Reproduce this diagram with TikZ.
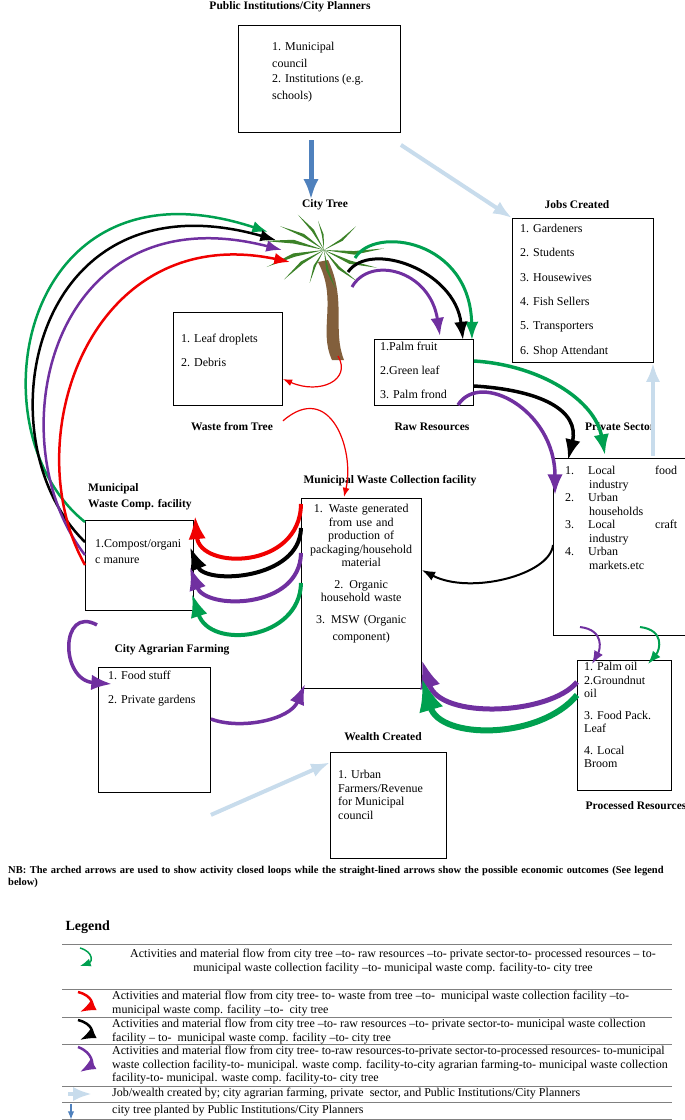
\documentclass[tikz,border=0pt]{standalone}
\usepackage{fontspec}
\setmainfont{Liberation Serif}
\usetikzlibrary{arrows,arrows.meta,shapes,positioning,calc}
\definecolor{lgreen}{RGB}{0,160,80}
\definecolor{lpurple}{RGB}{112,48,160}
\definecolor{lred}{RGB}{240,0,0}
\definecolor{lsky}{RGB}{200,220,236}
\definecolor{lblue}{RGB}{79,129,189}
\definecolor{trunk}{RGB}{130,95,60}
\definecolor{leaf}{RGB}{60,130,40}
\tikzset{
	box/.style={draw, line width=0.9pt, anchor=north west, inner sep=0pt},
	txt/.style={anchor=north west, align=left, font=\fontsize{12}{17}\selectfont, inner sep=0pt},
	ttl/.style={font=\fontsize{11.5}{15}\selectfont\bfseries, inner sep=0pt},
	flow/.style={-{Latex[scale=1.1]}, line width=#1},
	flow/.default=2pt,
	job/.style={-{Latex[scale=0.9]}, line width=4pt, draw=lsky},
	leg/.style={anchor=north west, align=left, font=\fontsize{12}{13.5}\selectfont, inner sep=0pt},
}
\begin{document}
\begin{tikzpicture}[x=1pt, y=-1pt]
	\useasboundingbox (0,0) rectangle (685,1120);
	% top: planners
	\node[ttl] (pititle) at (290,7) {Public Institutions/City Planners};
	\node[box, minimum width=162, minimum height=107] (pi) at (238,25) {};
	\node[txt] at (272,42) {1. Municipal\\council\\[-2pt]2. Institutions (e.g.\\schools)};
	\node[ttl] (treetitle) at (325,205) {City Tree};
	\coordinate (plant) at (311,140);
	\draw[-{Latex[scale=0.8]}, line width=5pt, draw=lblue] (plant) -- (treetitle.north -| plant);
	% palm tree
	\fill[trunk] (318,262) .. controls (338,300) and (318,330) .. (332,360) -- (344,360) .. controls (332,330) and (347,300) .. (328,260) -- cycle;
	\foreach \a/\l in {160/60,185/62,140/50,205/50,15/56,40/46,355/60,110/36,70/40,230/44,320/40,255/30}
		\fill[leaf] (324,250) -- ++(\a+7:\l*0.5) -- ++(\a:\l*0.5) -- ++(\a-180-7:\l*0.5) -- cycle;
	% jobs
	\node[ttl] (jobtitle) at (577,205) {Jobs Created};
	\node[box, minimum width=141, minimum height=144] (jobs) at (512,218) {};
	\node[txt, font=\fontsize{12}{24.3}\selectfont] at (520,224) {1. Gardeners\\2. Students\\3. Housewives\\4. Fish Sellers\\5. Transporters\\6. Shop Attendant};
	% waste from tree, raw resources
	\node[box, minimum width=109, minimum height=93] (waste) at (173,312) {};
	\node[txt, font=\fontsize{12}{24}\selectfont] at (181,334) {1. Leaf droplets\\2. Debris};
	\node[ttl] at (232,427) {Waste from Tree};
	\node[box, minimum width=99, minimum height=66] (raw) at (374,339) {};
	\node[txt, font=\fontsize{12}{24}\selectfont] at (380,342) {1.Palm fruit\\2.Green leaf\\3. Palm frond};
	\node[ttl] at (432,427) {Raw Resources};
	% private sector
	\node[ttl] at (620,427) {Private Sector};
	\node[box, minimum width=132, minimum height=177] (priv) at (553,458) {};
	\node[txt, font=\fontsize{12}{13.5}\selectfont, text width=112] at (565,466) {1.\hspace{14pt}Local\hfill food\\\hspace*{24pt}industry\\2.\hspace{14pt}Urban\\\hspace*{24pt}households\\3.\hspace{14pt}Local\hfill craft\\\hspace*{24pt}industry\\4.\hspace{14pt}Urban\\\hspace*{24pt}markets.etc};
	% collection facility
	\node[ttl] at (390,481) {Municipal Waste Collection facility};
	\node[box, minimum width=120, minimum height=190] (coll) at (301,498) {};
	\node[txt, align=center, text width=116] at (303,504) {\fontsize{12}{13.5}\selectfont 1. Waste generated\\from use and\\production of\\packaging/household\\material\\[8pt]2. Organic\\household waste\\[8pt]3. MSW (Organic\\component)};
	% compost facility
	\node[ttl, align=left, anchor=north west, font=\fontsize{11.5}{16}\selectfont\bfseries] at (88,483) {Municipal\\Waste Comp. facility};
	\node[box, minimum width=108, minimum height=90] (comp) at (85,520) {};
	\node[txt, font=\fontsize{12}{16}\selectfont] at (95,539) {1.Compost/organi\\c manure};
	% agrarian
	\node[ttl] at (172,650) {City Agrarian Farming};
	\node[box, minimum width=112, minimum height=125] (farm) at (98,667) {};
	\node[txt, font=\fontsize{12}{24}\selectfont] at (108,671) {1. Food stuff\\2. Private gardens};
	% processed
	\node[box, minimum width=94, minimum height=130] (proc) at (577,660) {};
	\node[txt, font=\fontsize{12}{13.5}\selectfont] at (584,662) {1. Palm oil\\2.Groundnut\\oil\\[8pt]3. Food Pack.\\Leaf\\[8pt]4. Local\\Broom};
	\node[ttl] at (636,806) {Processed Resources};
	% wealth
	\node[ttl] at (383,737) {Wealth Created};
	\node[box, minimum width=116, minimum height=106] (wealth) at (330,752) {};
	\node[txt, font=\fontsize{12}{13.5}\selectfont] at (338,770) {1. Urban\\Farmers/Revenue\\for Municipal\\council};
	% straight outcome arrows
	\draw[job] ([yshift=-12pt]pi.south east) -- (jobs.north west);
	\draw[job] (priv.north -| 653,0) ++(0,-2) -- (jobs.south -| 653,0);
	\draw[job] ([yshift=-22pt]farm.south east) -- ([yshift=43pt]wealth.west);
	% closed loops back to the tree
	\draw[flow=2.5pt, lgreen] ([yshift=-2pt]comp.north west) .. controls (-30,430) and (20,150) .. (268,232);
	\draw[flow=2.5pt, black] ([yshift=-22pt]comp.north west) .. controls (-20,440) and (30,170) .. (276,240);
	\draw[flow=2.5pt, lpurple] ([yshift=-35pt]comp.north west) .. controls (-5,440) and (50,190) .. (282,250);
	\draw[flow=2.5pt, lred] ([yshift=-45pt]comp.north west) .. controls (15,440) and (90,220) .. (290,262);
	% tree to raw resources
	\draw[flow=3pt, lgreen] (355,258) .. controls (375,225) and (470,240) .. (472,340);
	\draw[flow=3pt, black] (348,272) .. controls (370,240) and (455,270) .. (463,340);
	\draw[flow=3pt, lpurple] (352,287) .. controls (370,255) and (430,270) .. (440,336);
	% tree to waste
	\draw[flow=1.2pt, lred] (338,356) .. controls (352,380) and (320,395) .. (waste.east |- 0,379);
	\draw[flow=1.2pt, lred] ([yshift=-15pt]waste.south east) .. controls (330,380) and (355,450) .. (344,497);
	% raw to private
	\draw[flow=3.5pt, lgreen] ([yshift=-22pt]raw.north east) .. controls (540,365) and (595,400) .. (605,455);
	\draw[flow=3.5pt, black] ([yshift=-47pt]raw.north east) .. controls (540,390) and (580,410) .. (568,460);
	\draw[flow=3.5pt, lpurple] (458,405) .. controls (480,370) and (555,410) .. (555,495);
	% private to collection
	\draw[flow=2pt, black] ([yshift=-87pt]priv.north west) .. controls (550,575) and (470,595) .. ([yshift=-72pt]coll.north east);
	% collection to compost
	\draw[flow=4pt, lred] ([yshift=-6pt]coll.north west) .. controls (300,570) and (200,570) .. (195,516);
	\draw[flow=4pt, black] ([yshift=-30pt]coll.north west) .. controls (300,580) and (205,585) .. (190,547);
	\draw[flow=4pt, lpurple] ([yshift=-55pt]coll.north west) .. controls (300,610) and (205,610) .. (190,567);
	\draw[flow=4pt, lgreen] ([yshift=-85pt]coll.north west) .. controls (300,640) and (210,650) .. (192,594);
	% compost to farm, farm to collection
	\draw[flow=3.5pt, lpurple] ([xshift=12pt, yshift=-14pt]comp.south west) .. controls (60,605) and (60,680) .. (112,684);
	\draw[flow=3.5pt, lpurple] ([yshift=-52pt]farm.north east) .. controls (240,730) and (290,720) .. (305,684);
	% private to processed
	\draw[flow=2pt, lpurple] (580,627) .. controls (605,630) and (600,650) .. (592,664);
	\draw[flow=2pt, lgreen] (640,627) .. controls (665,630) and (660,650) .. (648,664);
	% processed to collection
	\draw[flow=5pt, lpurple] ([yshift=-22pt]proc.north west) .. controls (550,715) and (440,720) .. ([yshift=-162pt]coll.north east);
	\draw[flow=6pt, lgreen] ([yshift=-35pt]proc.north west) .. controls (540,740) and (440,740) .. ([yshift=-180pt]coll.north east);
	% note
	\node[txt, font=\fontsize{10.5}{12.5}\selectfont\bfseries, text width=675] at (8,866) {NB: The arched arrows are used to show activity closed loops while the straight-lined arrows show the possible economic outcomes (See legend below)};
	\node[anchor=west, font=\fontsize{14}{16}\selectfont\bfseries] at (62,927) {Legend};
	% legend
	\foreach \y in {944,989,1017,1044,1086,1102,1119}
		\draw[gray, line width=0.8pt] (62,\y) -- (672,\y);
	\draw[flow=1.5pt, lgreen] (80,948) .. controls (94,952) and (92,962) .. (80,966);
	\draw[flow=2.5pt, lred] (78,992) .. controls (94,996) and (92,1006) .. (80,1012);
	\draw[flow=2.5pt, black] (78,1020) .. controls (94,1024) and (92,1034) .. (80,1040);
	\draw[flow=2.5pt, lpurple] (78,1047) .. controls (94,1053) and (92,1065) .. (80,1072);
	\draw[job] (68,1094) -- (92,1094);
	\draw[-{Latex[scale=0.6]}, line width=2.5pt, draw=lblue] (71,1104) -- (71,1120);
	\node[leg, align=center] at (130,949) {Activities and material flow from city tree --to- raw resources --to- private sector-to- processed resources -- to-\\municipal waste collection facility --to- municipal waste comp. facility-to- city tree};
	\node[leg] at (112,991) {Activities and material flow from city tree- to- waste from tree --to-\hspace{3pt} municipal waste collection facility --to-\\municipal waste comp. facility --to-\hspace{3pt} city tree};
	\node[leg] at (112,1019) {Activities and material flow from city tree --to- raw resources --to- private sector-to- municipal waste collection\\facility -- to-\hspace{3pt} municipal waste comp. facility --to- city tree};
	\node[leg] at (112,1046) {Activities and material flow from city tree- to-raw resources-to-private sector-to-processed resources- to-municipal\\waste collection facility-to- municipal. waste comp. facility-to-city agrarian farming-to- municipal waste collection\\facility-to- municipal. waste comp. facility-to- city tree};
	\node[leg] at (112,1088) {Job/wealth created by; city agrarian farming, private\hspace{3pt} sector, and Public Institutions/City Planners};
	\node[leg] at (112,1105) {city tree planted by Public Institutions/City Planners};
\end{tikzpicture}
\end{document}
